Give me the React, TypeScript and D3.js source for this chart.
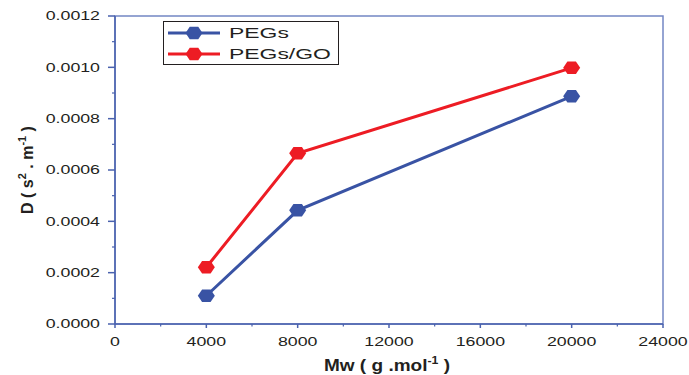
import React, { useEffect, useRef } from 'react';
import * as d3 from 'd3';

const mwValues = [4000, 8000, 20000];
const pegValues = [0.00011, 0.000443, 0.000887];
const pegGoValues = [0.000221, 0.000665, 0.000998];
const seriesNames = ["PEGs", "PEGs/GO"];
const seriesColors = ["#3953a4", "#ed1c24"];
const xTicks = [0, 4000, 8000, 12000, 16000, 20000, 24000];
const yTicks = [0, 0.0002, 0.0004, 0.0006, 0.0008, 0.001, 0.0012];

const App = () => {
  const svgRef = useRef<SVGSVGElement>(null);

  useEffect(() => {
    const width = 689, height = 375;
    const margin = { top: 16, right: 26, bottom: 51, left: 115 };
    const svg = d3.select(svgRef.current);
    svg.selectAll("*").remove();
    svg.attr("width", width).attr("height", height);

    const x = d3.scaleLinear().domain([0, 24000]).range([margin.left, width - margin.right]);
    const y = d3.scaleLinear().domain([0, 0.0012]).range([height - margin.bottom, margin.top]);
    const axisColor = "#4a62ae";
    const font = "Liberation Sans, Arial, sans-serif";
    const stretch = 1.42; // the original text is stretched sideways

    // frame
    svg.append("rect")
      .attr("x", x(0)).attr("y", y(0.0012))
      .attr("width", x(24000) - x(0)).attr("height", y(0) - y(0.0012))
      .attr("fill", "none").attr("stroke", "#7386c4").attr("stroke-width", 1.5);

    const minorX = d3.range(2000, 24000, 4000);
    const minorY = d3.range(0.0001, 0.0012, 0.0002);

    const xAxis = svg.append("g").attr("transform", `translate(0,${y(0)})`);
    xAxis.append("line").attr("x1", x(0)).attr("x2", x(24000)).attr("stroke", axisColor).attr("stroke-width", 1.5);
    xTicks.forEach(t => {
      xAxis.append("line").attr("x1", x(t)).attr("x2", x(t)).attr("y1", 0).attr("y2", 4)
        .attr("stroke", axisColor).attr("stroke-width", 1.5);
      xAxis.append("text").attr("transform", `translate(${x(t)},22) scale(${stretch},1)`)
        .attr("text-anchor", "middle")
        .attr("font-family", font).attr("font-size", 12.5).attr("fill", "#231f20")
        .text(t);
    });
    minorX.forEach(t => {
      xAxis.append("line").attr("x1", x(t)).attr("x2", x(t)).attr("y1", 0).attr("y2", 2.5)
        .attr("stroke", axisColor).attr("stroke-width", 1.2);
    });

    const yAxis = svg.append("g").attr("transform", `translate(${x(0)},0)`);
    yAxis.append("line").attr("y1", y(0)).attr("y2", y(0.0012)).attr("stroke", axisColor).attr("stroke-width", 1.5);
    yTicks.forEach(t => {
      yAxis.append("line").attr("y1", y(t)).attr("y2", y(t)).attr("x1", 0).attr("x2", -7)
        .attr("stroke", axisColor).attr("stroke-width", 1.5);
      yAxis.append("text").attr("transform", `translate(-15,${y(t)}) scale(${stretch},1)`)
        .attr("dy", "0.35em").attr("text-anchor", "end")
        .attr("font-family", font).attr("font-size", 12.5).attr("fill", "#231f20")
        .text(t.toFixed(4));
    });
    minorY.forEach(t => {
      yAxis.append("line").attr("y1", y(t)).attr("y2", y(t)).attr("x1", 0).attr("x2", -3)
        .attr("stroke", axisColor).attr("stroke-width", 1.2);
    });

    // axis titles
    const xTitle = svg.append("text")
      .attr("transform", `translate(387,371) scale(1.12,1)`).attr("text-anchor", "middle")
      .attr("font-family", font).attr("font-size", 17).attr("font-weight", "bold").attr("fill", "#231f20");
    xTitle.append("tspan").text("Mw ( g .mol");
    xTitle.append("tspan").attr("dy", -7).attr("font-size", 11).text("-1");
    xTitle.append("tspan").attr("dy", 7).text(" )");

    const yTitle = svg.append("text")
      .attr("transform", `translate(33,170) rotate(-90)`).attr("text-anchor", "middle")
      .attr("font-family", font).attr("font-size", 16).attr("font-weight", "bold").attr("fill", "#231f20");
    yTitle.append("tspan").text("D ( s");
    yTitle.append("tspan").attr("dy", -7).attr("font-size", 11).text("2");
    yTitle.append("tspan").attr("dy", 7).text(" . m");
    yTitle.append("tspan").attr("dy", -7).attr("font-size", 11).text("-1");
    yTitle.append("tspan").attr("dy", 7).text(" )");

    const hexagon = (r: number) => {
      const pts = d3.range(6).map(i => {
        const a = (Math.PI / 3) * i;
        return [r * Math.cos(a), r * 0.85 * Math.sin(a)];
      });
      return "M" + pts.map(p => p.join(",")).join("L") + "Z";
    };

    const line = d3.line<number>().x((_, i) => x(mwValues[i])).y(d => y(d));
    [pegValues, pegGoValues].forEach((vals, si) => {
      svg.append("path").attr("d", line(vals)).attr("fill", "none")
        .attr("stroke", seriesColors[si]).attr("stroke-width", 3);
      vals.forEach((v, i) => {
        svg.append("path").attr("d", hexagon(8.5))
          .attr("transform", `translate(${x(mwValues[i])},${y(v)})`)
          .attr("fill", seriesColors[si]);
      });
    });

    // legend
    const legend = svg.append("g");
    legend.append("rect").attr("x", 163.5).attr("y", 21.5).attr("width", 175).attr("height", 43)
      .attr("fill", "white").attr("stroke", "#231f20").attr("stroke-width", 1);
    seriesNames.forEach((name, i) => {
      const ly = 33 + i * 21;
      legend.append("line").attr("x1", 168).attr("x2", 220).attr("y1", ly).attr("y2", ly)
        .attr("stroke", seriesColors[i]).attr("stroke-width", 3);
      legend.append("path").attr("d", hexagon(8.5)).attr("transform", `translate(194,${ly})`)
        .attr("fill", seriesColors[i]);
      legend.append("text").attr("transform", `translate(229,${ly}) scale(1.48,1)`).attr("dy", "0.35em")
        .attr("font-family", font).attr("font-size", 15.5).attr("fill", "#231f20").text(name);
    });
  }, []);

  return <svg ref={svgRef} style={{ position: "absolute", left: 0, top: 0 }}></svg>;
};

export default App;
